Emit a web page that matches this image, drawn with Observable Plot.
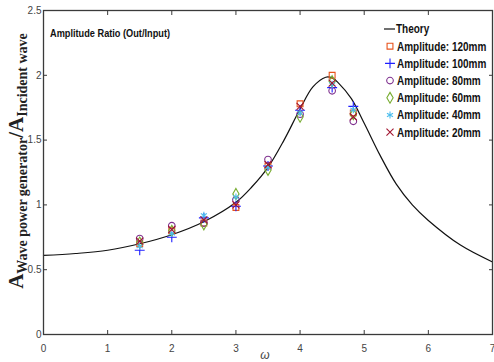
<!DOCTYPE html>
<html><head><meta charset="utf-8">
<script src="https://cdn.jsdelivr.net/npm/d3@7"></script>
<script src="https://cdn.jsdelivr.net/npm/@observablehq/plot@0.6"></script>
<style>body{margin:0;background:#fff;overflow:hidden}</style>
</head><body><div id="chart"></div>
<script>
// Theory curve
const omegaTheory = [0, 0.5, 1.0, 1.5, 2.0, 2.5, 3.0, 3.25, 3.5, 3.75, 4.0, 4.2, 4.4, 4.5, 4.6, 4.8, 5.0, 5.25, 5.5, 5.75, 6.0, 6.5, 7.0];
const ratioTheory = [0.61, 0.625, 0.65, 0.70, 0.77, 0.87, 1.02, 1.14, 1.29, 1.50, 1.74, 1.91, 1.985, 1.98, 1.94, 1.82, 1.63, 1.38, 1.16, 1.00, 0.88, 0.69, 0.56];

// Experimental points
const omegaExp = [1.5, 2.0, 2.5, 3.0, 3.5, 4.0, 4.5, 4.83];
const amp120 = [0.70, 0.80, 0.86, 0.98, 1.30, 1.78, 2.00, 1.71];
const amp100 = [0.65, 0.75, 0.90, 0.99, 1.30, 1.73, 1.905, 1.76];
const amp80  = [0.74, 0.84, 0.86, 1.04, 1.35, 1.70, 1.88, 1.645];
const amp60  = [0.71, 0.80, 0.85, 1.085, 1.27, 1.68, 1.955, 1.70];
const amp40  = [0.68, 0.78, 0.92, 1.06, 1.29, 1.71, 1.93, 1.735];
const amp20  = [0.72, 0.81, 0.885, 1.00, 1.31, 1.76, 1.94, 1.68];

const seriesNames = ["Amplitude: 120mm", "Amplitude: 100mm", "Amplitude: 80mm", "Amplitude: 60mm", "Amplitude: 40mm", "Amplitude: 20mm"];
const seriesValues = [amp120, amp100, amp80, amp60, amp40, amp20];
const seriesColors = ["#e8531c", "#1f1fff", "#7e2f8e", "#77ac30", "#4dbeee", "#a2142f"];
const seriesSymbols = ["square", "plus", "circle", "diamond", "asterisk", "times"];

const xTicks = [0, 1, 2, 3, 4, 5, 6, 7];
const xTickLabels = ["0", "1", "2", "3", "4", "5", "6", "7"];
const yTicks = [0, 0.5, 1, 1.5, 2, 2.5];
const yTickLabels = ["0", "0.5", "1", "1.5", "2", "2.5"];

const theory = omegaTheory.map((w, i) => ({w, r: ratioTheory[i]}));
const points = [];
seriesValues.forEach((vals, s) => vals.forEach((v, i) => points.push({w: omegaExp[i], r: v, s})));

const axisColor = "#3a3a3a";
const W = 494, H = 362;
const mr = 3.3;
const chart = Plot.plot({
  width: W, height: H,
  marginLeft: 43, marginRight: 2, marginTop: 10, marginBottom: 28,
  style: {fontFamily: "Liberation Sans, Arial, sans-serif", fontSize: "10px", color: "#444", background: "#fff"},
  x: {domain: [0, 7]},
  y: {domain: [0, 2.5]},
  marks: [
    Plot.axisX({anchor: "bottom", ticks: xTicks, tickFormat: (d) => xTickLabels[xTicks.indexOf(d)], tickSize: -4, tickPadding: 14, label: null, stroke: axisColor, fill: "#444"}),
    Plot.axisX({anchor: "top", ticks: xTicks, tickSize: -4, tickFormat: () => "", label: null, stroke: axisColor}),
    Plot.axisY({anchor: "left", ticks: yTicks, tickFormat: (d) => yTickLabels[yTicks.indexOf(d)], tickSize: -4, tickPadding: 6, label: null, stroke: axisColor, fill: "#444"}),
    Plot.axisY({anchor: "right", ticks: yTicks, tickSize: -4, tickFormat: () => "", label: null, stroke: axisColor}),
    Plot.line(theory, {x: "w", y: "r", curve: "catmull-rom", stroke: "#111", strokeWidth: 1.2}),
    ...seriesValues.map((vals, s) => Plot.dot(points.filter(p => p.s === s), {
      x: "w", y: "r", symbol: () => seriesSymbols[s], stroke: seriesColors[s], fill: "none", r: mr, strokeWidth: 1.1
    })),
    Plot.frame({stroke: axisColor, strokeWidth: 1.3})
  ]
});
document.getElementById("chart").appendChild(chart);

const svg = d3.select(chart);
const narrow = 0.8;
// In-plot title
svg.append("g").attr("transform", `translate(50,37) scale(${narrow},1)`)
  .append("text").attr("text-anchor", "start")
  .attr("font-family", "Liberation Sans, Arial, sans-serif")
  .attr("font-weight", "bold").attr("font-size", 11.5).attr("fill", "#111")
  .text("Amplitude Ratio (Out/Input)");

// Legend
const lg = svg.append("g").attr("font-family", "Liberation Sans, Arial, sans-serif")
  .attr("font-weight", "bold").attr("font-size", 12.5).attr("fill", "#111").attr("text-anchor", "start");
const ly0 = 29, ldy = 17.2, lx = 390;
lg.append("line").attr("x1", lx - 6).attr("x2", lx + 5).attr("y1", ly0).attr("y2", ly0).attr("stroke", "#111").attr("stroke-width", 1.2);
lg.append("g").attr("transform", `translate(${lx + 6},${ly0}) scale(${narrow},1)`)
  .append("text").attr("dy", "0.35em").text("Theory");
const symMap = {square: d3.symbolSquare, plus: d3.symbolPlus, circle: d3.symbolCircle, diamond: d3.symbolDiamond, asterisk: d3.symbolAsterisk, times: d3.symbolTimes};
seriesNames.forEach((name, i) => {
  const y = ly0 + ldy * (i + 1);
  lg.append("path").attr("transform", `translate(${lx},${y})`)
    .attr("d", d3.symbol(symMap[seriesSymbols[i]], Math.PI * mr * mr)())
    .attr("fill", "none").attr("stroke", seriesColors[i]).attr("stroke-width", 1.1);
  lg.append("g").attr("transform", `translate(${lx + 7},${y}) scale(${narrow},1)`)
    .append("text").attr("dy", "0.35em").text(name);
});

// X label
svg.append("text").attr("x", 265).attr("y", 359).attr("text-anchor", "middle")
  .attr("font-family", "Liberation Sans, Arial, sans-serif").attr("font-style", "italic")
  .attr("font-size", 12).attr("fill", "#444").text("ω");

// Y label
const yl = svg.append("text").attr("transform", "translate(23,161) rotate(-90)").attr("text-anchor", "middle")
  .attr("font-family", "Liberation Serif, Times New Roman, serif").attr("font-weight", "bold").attr("fill", "#222");
yl.append("tspan").attr("font-size", 21).text("A");
yl.append("tspan").attr("font-size", 14).attr("dy", 4).text("Wave power generator");
yl.append("tspan").attr("font-size", 21).attr("dy", -4).text("/A");
yl.append("tspan").attr("font-size", 14).attr("dy", 4).text("Incident wave");
</script>
</body></html>
